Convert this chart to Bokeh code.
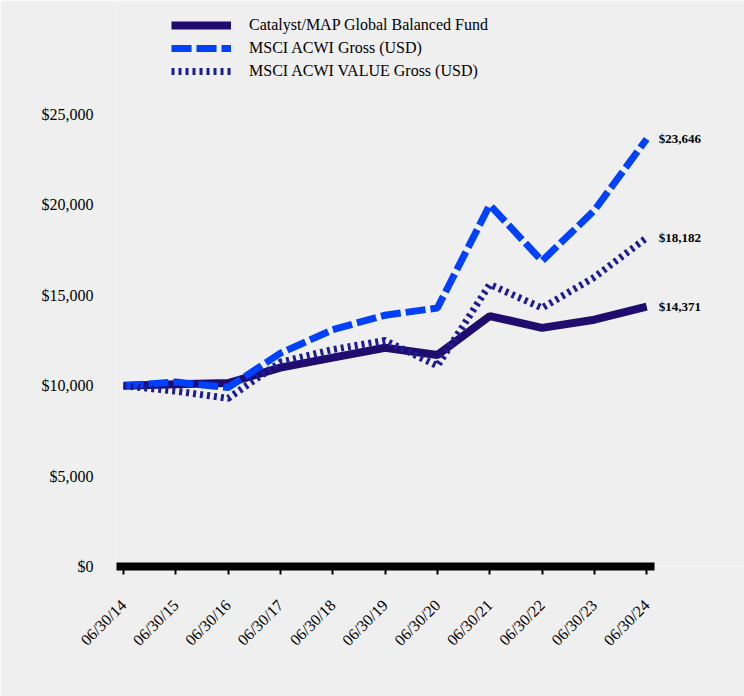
from bokeh.plotting import figure
from bokeh.models import ColumnDataSource, Range1d, FixedTicker, Legend, LegendItem
from bokeh.core.properties import value
from bokeh.embed import file_html
from bokeh.resources import INLINE
import math

dates = ["06/30/14", "06/30/15", "06/30/16", "06/30/17", "06/30/18", "06/30/19",
         "06/30/20", "06/30/21", "06/30/22", "06/30/23", "06/30/24"]
fund = [10000, 10080, 10150, 11000, 11550, 12100, 11700, 13850, 13200, 13650, 14371]
acwi = [10000, 10200, 9900, 11800, 13100, 13900, 14300, 20000, 16900, 19700, 23646]
acwi_value = [10000, 9700, 9300, 11300, 12000, 12500, 11100, 15600, 14300, 16000, 18182]
end_labels = ["$23,646", "$18,182", "$14,371"]
y_ticks = [0, 5000, 10000, 15000, 20000, 25000]
y_tick_labels = ["$0", "$5,000", "$10,000", "$15,000", "$20,000", "$25,000"]

BG = "#efefef"
FONT = "Liberation Serif"
x = list(range(len(dates)))

p = figure(width=744, height=696, output_backend="svg", toolbar_location=None,
           x_range=Range1d(-0.134, 11.87), y_range=Range1d(0, 31195),
           min_border_left=116, min_border_right=0, min_border_top=2, min_border_bottom=130)
p.background_fill_color = BG
p.border_fill_color = BG
p.outline_line_color = None
p.xgrid.visible = False
p.ygrid.visible = False

src = ColumnDataSource(dict(x=x, fund=fund, acwi=acwi, val=acwi_value))
r_fund = p.line("x", "fund", source=src, line_color="#200C6E", line_width=8)
r_acwi = p.line("x", "acwi", source=src, line_color="#0040FF", line_width=7, line_dash="20 5")
r_val = p.line("x", "val", source=src, line_color="#1C1C96", line_width=7, line_dash="3 4")

last = len(dates) - 1
lab = ColumnDataSource(dict(x=[last] * 3, y=[acwi[-1], acwi_value[-1], fund[-1]], t=end_labels))
p.text("x", "y", text="t", source=lab, x_offset=12, text_baseline="middle", text_align="left",
       text_font=value(FONT), text_font_size="13px", text_font_style="bold", text_color="black")

# axes
p.xaxis.bounds = (-0.134, 10.15)
p.xaxis.ticker = FixedTicker(ticks=x)
p.xaxis.major_label_overrides = {i: d for i, d in enumerate(dates)}
p.xaxis.major_label_orientation = math.pi / 4
p.xaxis.axis_line_width = 8
p.xaxis.axis_line_color = "black"
p.xaxis.major_tick_line_width = 2
p.xaxis.major_tick_out = 8
p.xaxis.major_tick_in = 0
p.xaxis.minor_tick_line_color = None
p.xaxis.major_label_text_font = FONT
p.xaxis.major_label_text_font_size = "16px"
p.xaxis.major_label_text_color = "black"
p.xaxis.major_label_standoff = 28

p.yaxis.ticker = FixedTicker(ticks=y_ticks)
p.yaxis.major_label_overrides = {t: l for t, l in zip(y_ticks, y_tick_labels)}
p.yaxis.axis_line_color = None
p.yaxis.major_tick_line_color = None
p.yaxis.minor_tick_line_color = None
p.yaxis.major_label_text_font = FONT
p.yaxis.major_label_text_font_size = "16px"
p.yaxis.major_label_text_color = "black"
p.yaxis.major_label_standoff = 17

legend = Legend(items=[
    LegendItem(label="Catalyst/MAP Global Balanced Fund", renderers=[r_fund]),
    LegendItem(label="MSCI ACWI Gross (USD)", renderers=[r_acwi]),
    LegendItem(label="MSCI ACWI VALUE Gross (USD)", renderers=[r_val]),
], location=(55, 485))
legend.background_fill_alpha = 0
legend.border_line_color = None
legend.glyph_width = 60
legend.glyph_height = 20
legend.label_standoff = 18
legend.spacing = 3
legend.padding = 4
legend.label_text_font = FONT
legend.label_text_font_size = "16px"
legend.label_text_color = "black"
p.add_layout(legend, "center")

open("out.html", "w").write(file_html(p, INLINE))
